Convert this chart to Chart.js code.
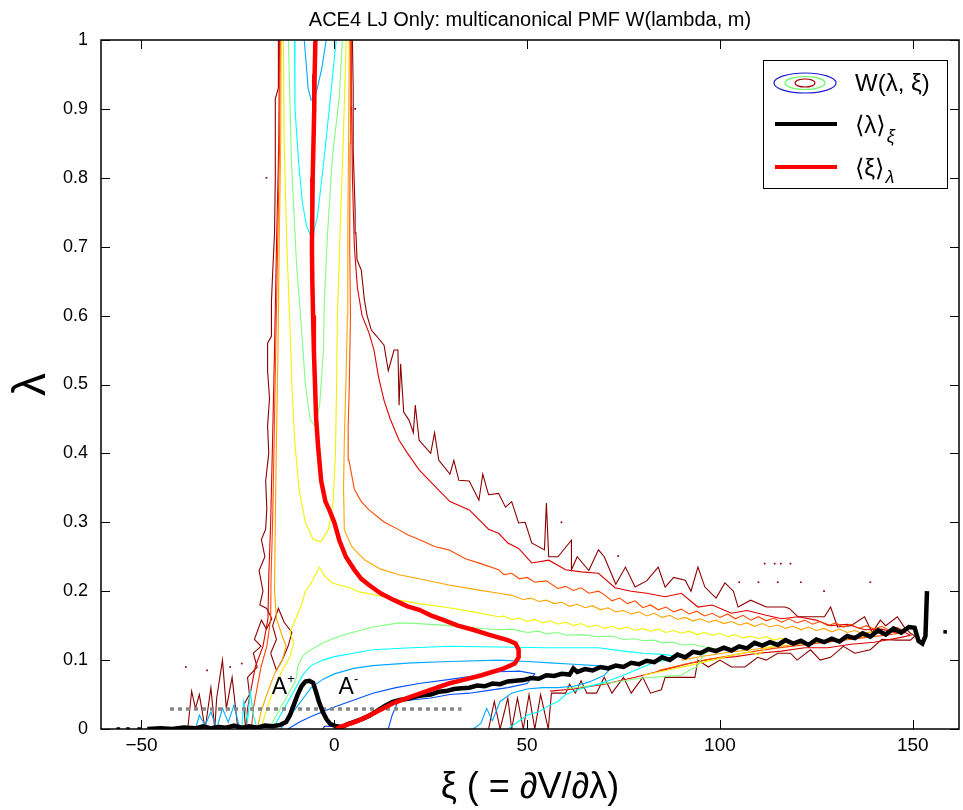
<!DOCTYPE html>
<html>
<head>
<meta charset="utf-8">
<script src="https://cdn.jsdelivr.net/npm/chart.js@4.4.0/dist/chart.umd.min.js"></script>
<style>
html, body { margin: 0; padding: 0; background: #fff; }
</style>
</head>
<body>
<canvas id="pmfChart" width="963" height="810"></canvas>
<script>
// ACE4 LJ only : multicanonical PMF, contours + mean curves

const FONT = 'Helvetica, "Liberation Sans", Arial, "DejaVu Sans", sans-serif';

// axes
const xTicks = [-50, 0, 50, 100, 150];
const xTickLabels = ['\u221250', '0', '50', '100', '150'];
const yTicks = [0, 0.1, 0.2, 0.3, 0.4, 0.5, 0.6, 0.7, 0.8, 0.9, 1];
const yTickLabels = ['0', '0.1', '0.2', '0.3', '0.4', '0.5', '0.6', '0.7', '0.8', '0.9', '1'];

// <lambda>_xi  (black)
const lambdaMean = [
  [-48.5,0],[-45,0.001],[-42,0.0],[-39,0.002],[-36,0.001],[-34,0.004],[-32,0.001],[-30,0.003],[-28,0.002],
  [-26,0.005],[-24,0.002],[-22,0.004],[-20,0.002],[-18,0.005],[-16,0.004],[-14,0.006],[-12.5,0.01],[-11.5,0.02],
  [-10.5,0.035],[-9.5,0.05],[-8.5,0.062],[-7.5,0.069],[-6.5,0.07],[-5.5,0.067],[-4.8,0.055],[-4,0.04],[-3,0.025],
  [-2,0.014],[-1,0.007],[0.5,0.004],[2,0.003],[3.5,0.007],[5,0.01],[7,0.014],[9,0.019],[11,0.026],[13,0.033],
  [15,0.039],[17,0.042],[19,0.044],[21,0.047],[23,0.049],[25,0.05],[27,0.054],[29,0.055],[31,0.058],[33,0.059],
  [35,0.06],[37,0.063],[39,0.062],[41,0.066],[43,0.065],[45,0.069],[47,0.07],[49,0.071],[51,0.074],[53,0.073],
  [55,0.078],[57,0.077],[59,0.08],[61,0.079],[62,0.088],[63,0.083],[65,0.087],[67,0.085],[69,0.09],[71,0.088],
  [73,0.092],[75,0.09],[77,0.096],[79,0.094],[81,0.099],[83,0.097],[85,0.104],[87,0.1],[89,0.108],[91,0.104],
  [93,0.112],[95,0.11],[97,0.116],[99,0.113],[101,0.118],[103,0.114],[105,0.12],[107,0.117],[109,0.125],[111,0.121],
  [113,0.126],[115,0.122],[117,0.129],[119,0.124],[121,0.128],[123,0.122],[125,0.13],[127,0.126],[129,0.131],
  [131,0.127],[133,0.135],[135,0.132],[137,0.139],[139,0.134],[141,0.143],[143,0.137],[145,0.146],[147,0.14],
  [149,0.148],[150.5,0.147],[151.5,0.128],[152.5,0.124],[153.3,0.135],[153.7,0.2]
];
const lambdaMeanDots = [[-56,0],[-53.5,0],[-50.6,0],[158.4,0.141]];

// <xi>_lambda  (red)
const xiMean = [
  [-4.9,1.0],[-5.1,0.95],[-5.2,0.9],[-5.4,0.85],[-5.6,0.8],[-5.7,0.75],[-5.8,0.7],[-5.7,0.65],[-5.5,0.6],
  [-5.3,0.55],[-5.0,0.5],[-4.7,0.45],[-4.2,0.41],[-3.4,0.36],[-2.3,0.33],[-1.3,0.318],[0,0.3],[1.3,0.274],
  [3,0.25],[5.2,0.231],[7,0.218],[9,0.209],[12,0.197],[15.5,0.187],[19,0.178],[22,0.173],[25,0.165],[28.4,0.158],
  [32,0.15],[36,0.144],[40,0.137],[45,0.129],[47,0.124],[47.8,0.115],[47.8,0.104],[46.8,0.095],[44,0.088],
  [38.2,0.078],[34,0.072],[29.7,0.066],[24,0.055],[19.4,0.046],[15.5,0.038],[12,0.028],[8.8,0.019],[5.8,0.011],
  [2,0.004],[0.5,0]
];

// dotted reference level
const refLevel = [[-42.6,0.029],[33,0.029]];

// contour W(lambda, xi), outer (dark red) -> inner (blue)
const darkRedLeft = [
  [-14.5,1.0],[-14.5,0.93],[-15.3,0.915],[-15.3,0.8],[-15.5,0.72],[-16.0,0.66],[-16.3,0.62],[-16.3,0.57],
  [-17.3,0.56],[-17.3,0.52],[-16.8,0.48],[-17.3,0.44],[-17.0,0.40],[-17.8,0.36],[-17.5,0.32],[-17.8,0.29],
  [-18.9,0.275],[-18.0,0.25],[-19.5,0.23],[-18.5,0.2],[-19.3,0.18],[-17.5,0.175],[-16.2,0.16],[-17.6,0.145],
  [-18.9,0.158],[-20.7,0.13],[-19.0,0.12],[-21.0,0.11],[-20.0,0.09],[-22.5,0.075],[-22.0,0.05],[-23.5,0.035],[-23.0,0.0]
];
const darkRedSpikes = [
  [-25,0],[-26.5,0.075],[-28,0.03],[-29,0.1],[-30.5,0.045],[-31,0],[-32,0.06],[-33.5,0],[-35,0.05],
  [-36,0.03],[-37,0.055],[-38,0]
];
const darkRedKnot = [
  [-16.5,0.11],[-15,0.13],[-16,0.15],[-14.5,0.175],[-13,0.155],[-11,0.14],[-12,0.12],[-13.5,0.1],[-15,0.085],[-16.5,0.11]
];
const darkRedBand = [
  [40,0],[41.5,0.04],[43,0],[45,0.045],[46,0.0],[47.5,0.045],[49,0.0],[50.5,0.05],[52,0.0],[53.5,0.05],[55.5,0.0],
  [56.3,0.052],[60,0.052],[61,0.065],[62.5,0.052],[64,0.07],[65.5,0.052],[68,0.052],[70,0.075],[72,0.052],
  [75,0.075],[77,0.052],[80,0.075],[82,0.052],[84.8,0.057],[85.8,0.075],[90,0.075],[93.5,0.075],[94.3,0.1],
  [97,0.09],[100,0.1],[103,0.09],[106.5,0.09],[109.8,0.104],[112,0.1],[115,0.11],[118.3,0.11],[120,0.1],
  [123.5,0.115],[126,0.1],[128.7,0.104],[132,0.12],[135,0.11],[139,0.115],[142,0.13],[146,0.129],[149.4,0.129],
  [150.6,0.135],[149.4,0.139],[147.8,0.148],[146,0.163],[143,0.15],[141.6,0.158],[139.5,0.14],[137.5,0.163],
  [134,0.15],[130.5,0.148],[128.7,0.177],[127.1,0.163],[120.2,0.163],[118,0.175],[116.8,0.177],[112,0.177],
  [108,0.187],[104.7,0.177],[103.5,0.2],[101.3,0.212],[99,0.19],[96.1,0.206],[94.3,0.235],[92.5,0.2],[91,0.216],
  [88,0.22],[85.8,0.206],[84,0.235],[81,0.215],[78,0.206],[75.5,0.235],[73,0.21],[71.8,0.226],[70,0.25],
  [68.5,0.26],[66,0.23],[63,0.25],[61.5,0.231],[61.5,0.274],[58,0.25],[55.6,0.25],[55,0.328],[54.5,0.26],
  [51.2,0.27],[49.5,0.3],[47.8,0.299],[46,0.33],[44.4,0.322],[42.6,0.342],[40,0.34],[38.5,0.37],[37.5,0.332],
  [35,0.36],[32.3,0.361],[31,0.39],[30,0.37],[27.1,0.39],[26,0.43],[25,0.40],[22,0.419],[21,0.47],[20.5,0.43],
  [19.4,0.448],[18,0.46],[17.2,0.53],[16.8,0.47],[16.5,0.55],[15.5,0.55],[14,0.52],[12.9,0.557],[11,0.57],
  [9.6,0.579],[8.5,0.6],[7.8,0.623],[7,0.666],[5.9,0.681],[5.6,0.72],[5.4,0.753],[4.9,0.84],[4.9,0.93],[4.7,1.0]
];
const darkRedDots = [
  [-17.6,0.8],[5.4,0.9],[58.9,0.3],[73.6,0.251],[111.6,0.24],[114.2,0.24],[115.8,0.24],[118.3,0.24],
  [105,0.213],[110,0.213],[115,0.213],[121,0.213],[127,0.2],[139,0.213],[-38.5,0.09],[-33,0.085],[-27,0.09],[-24,0.095]
];

const redLeft = [
  [-14.2,1],[-14.4,0.85],[-15.0,0.7],[-15.5,0.55],[-16.0,0.42],[-16.5,0.3],[-17.0,0.22],[-17.2,0.16],
  [-18.5,0.12],[-20.5,0.09],[-21.5,0.06],[-22.5,0.03],[-23,0]
];
const redBand = [
  [56,0.055],[62,0.058],[70,0.065],[78,0.075],[85,0.085],[92,0.095],[98,0.102],[104,0.105],[110,0.11],
  [116,0.113],[122,0.118],[128,0.118],[134,0.123],[140,0.126],[144,0.13],[147,0.133],[149.4,0.136],[148,0.14],
  [146,0.139],[142,0.145],[137.5,0.144],[133,0.152],[128.7,0.15],[125,0.158],[120.2,0.163],[116,0.16],[112,0.165],
  [107,0.172],[103,0.168],[98,0.18],[94.3,0.177],[90,0.197],[85.8,0.192],[81,0.197],[77,0.2],[72.8,0.205],
  [68.5,0.226],[64,0.228],[60,0.231],[55.6,0.245],[51.2,0.241],[47.8,0.262],[45,0.27],[42.6,0.284],[40,0.29],
  [35,0.318],[30,0.33],[27,0.347],[22,0.376],[19,0.40],[16.8,0.419],[14.5,0.45],[12.9,0.477],[11.5,0.51],
  [10.3,0.55],[9,0.575],[7.2,0.6],[6,0.64],[5.2,0.7],[4.7,0.8],[4.5,0.9],[4.4,1.0]
];

const orangeRedLeft = [
  [-14.0,1],[-14.2,0.85],[-14.7,0.7],[-15.2,0.55],[-15.6,0.42],[-16.0,0.3],[-16.4,0.22],[-16.5,0.16],
  [-17.5,0.12],[-19,0.09],[-20,0.06],[-21,0.03],[-21.5,0]
];
const orangeRedBand = [
  [84,0.085],[90,0.093],[96,0.1],[102,0.106],[108,0.112],[114,0.117],[120,0.121],[126,0.125],[132,0.129],
  [138,0.133],[143,0.136],[146.5,0.139],[148,0.142],[146,0.147],[144,0.143],[142,0.149],[140,0.145],[138,0.15],
  [136,0.146],[134,0.152],[132,0.148],[130,0.154],[128,0.15],[126,0.156],[124,0.152],[122,0.158],[120,0.154],
  [118,0.16],[116,0.155],[114,0.161],[112,0.157],[110,0.163],[108,0.158],[106,0.165],[104,0.16],[102,0.167],
  [100,0.162],[98,0.168],[96,0.164],[94,0.171],[92,0.167],[90,0.174],[88,0.17],[86,0.177],[84,0.173],[82,0.18],
  [80,0.176],[78,0.186],[76,0.182],[74,0.19],[72,0.186],[70,0.195],[68.5,0.2],[66,0.197],[64,0.205],[62,0.201],
  [60,0.207],[58,0.204],[55,0.215],[52,0.213],[50,0.22],[48,0.218],[46,0.226],[44,0.224],[42.6,0.231],[38,0.24],
  [34,0.247],[29.7,0.26],[26,0.265],[22,0.275],[19,0.282],[16.8,0.289],[13,0.3],[9,0.318],[7,0.33],[5.2,0.348],
  [3.8,0.39],[3.6,0.44],[3.9,0.5],[4.2,0.6],[4.0,0.7],[4.1,0.85],[4.2,1.0]
];

const orangeLeft = [
  [-13.8,1],[-13.9,0.85],[-14.3,0.7],[-14.6,0.55],[-15.0,0.42],[-15.3,0.3],[-15.5,0.2],[-15.0,0.16],
  [-13.5,0.135],[-12.5,0.12],[-13.5,0.1],[-15.5,0.08],[-17.5,0.05],[-19,0.025],[-20,0]
];
const orangeBand = [
  [90,0.1],[96,0.106],[102,0.111],[108,0.115],[114,0.119],[120,0.123],[126,0.127],[132,0.13],[137,0.134],
  [141,0.139],[139,0.141],[137,0.138],[135,0.143],[133,0.14],[131,0.145],[129,0.141],[127,0.146],[125,0.143],
  [123,0.148],[121,0.144],[119,0.149],[117,0.146],[115,0.151],[113,0.148],[111,0.153],[109,0.149],[107,0.154],
  [105,0.151],[103,0.156],[101,0.153],[99,0.158],[97,0.155],[95,0.16],[93,0.157],[91,0.162],[89,0.159],
  [87,0.165],[85,0.162],[83,0.168],[81,0.164],[79,0.17],[77,0.167],[75,0.172],[73,0.17],[71,0.176],[69,0.173],
  [67,0.179],[65,0.176],[63,0.181],[61,0.178],[59,0.184],[57,0.182],[55,0.187],[53,0.185],[51,0.19],[49,0.188],
  [46,0.194],[42.6,0.197],[36,0.203],[29.7,0.209],[22,0.218],[16.8,0.224],[12,0.232],[8,0.245],[6.5,0.253],
  [4.5,0.265],[2.6,0.289],[2.4,0.35],[2.6,0.42],[3.0,0.5],[3.4,0.6],[3.5,0.72],[3.7,0.85],[3.9,1.0]
];

const yellowColumn = [
  [-13.2,1],[-13.0,0.85],[-12.3,0.7],[-11.6,0.6],[-11.0,0.5],[-10.3,0.42],[-9.2,0.35],[-7.5,0.3],[-5.5,0.275],
  [-3.5,0.272],[-1.5,0.29],[-0.3,0.33],[0.3,0.4],[0.6,0.5],[0.8,0.6],[1.5,0.72],[2.3,0.85],[3.1,1]
];
const yellowBand = [
  [-19,0],[-17.5,0.03],[-15.5,0.06],[-13.5,0.085],[-11.5,0.105],[-10.5,0.125],[-11.5,0.14],[-10.0,0.16],
  [-8.5,0.18],[-7.5,0.2],[-6.2,0.21],[-4.5,0.228],[-3.9,0.235],[-2.5,0.222],[-0.5,0.212],[1.3,0.209],[4,0.205],
  [6.5,0.199],[12,0.193],[16.8,0.187],[22,0.182],[29.7,0.176],[36,0.17],[42.6,0.163],[44,0.164],[46,0.159],
  [48,0.161],[50,0.156],[52,0.159],[54,0.154],[56,0.157],[58,0.152],[60,0.155],[62,0.15],[64,0.153],[66,0.148],
  [68,0.151],[70,0.146],[72,0.149],[74,0.145],[76,0.148],[78,0.143],[80,0.146],[82,0.142],[84,0.145],[86,0.14],
  [88,0.143],[90,0.139],[92,0.142],[94,0.137],[96,0.14],[98,0.136],[100,0.139],[102,0.134],[104,0.137],
  [106,0.132],[108,0.135],[110,0.131],[112,0.134],[114,0.129],[116,0.132],[118,0.128],[116,0.122],[112,0.118],
  [110,0.108],[108,0.112],[104,0.108],[98,0.1],[92,0.092],[86,0.085],[80,0.078]
];

const greenColumn = [
  [-11.9,1],[-11.1,0.82],[-9.8,0.676],[-8.5,0.58],[-7.5,0.5],[-6.3,0.45],[-5,0.44],[-3.8,0.47],[-2.8,0.55],
  [-2.6,0.618],[-1.8,0.714],[-0.5,0.83],[1.3,0.917],[2.1,1]
];
const greenBand = [
  [-17,0],[-15,0.02],[-12.5,0.045],[-10.5,0.065],[-9.8,0.075],[-9.5,0.09],[-8.3,0.105],[-7,0.112],[-5.7,0.116],
  [-3,0.125],[0,0.132],[3.9,0.139],[10,0.148],[16.8,0.154],[22,0.153],[29.7,0.15],[36,0.147],[42.6,0.144],
  [46,0.145],[50,0.14],[53,0.142],[55,0.138],[58,0.14],[60,0.136],[64,0.137],[68.5,0.134],[72,0.135],[75,0.13],
  [78,0.131],[80,0.128],[83,0.129],[85,0.125],[88,0.126],[90,0.122],[93,0.123],[95,0.12],[99,0.116],
  [96,0.11],[94,0.09],[92,0.085],[90,0.078],[85,0.076],[80,0.074],[75,0.07],[70,0.066],[65,0.062],[60,0.058]
];

const cyanColumn = [
  [-10.3,1],[-10.2,0.9],[-9.2,0.82],[-8.3,0.765],[-7.2,0.73],[-6.2,0.717],[-5.4,0.72],[-4.4,0.743],
  [-2.8,0.82],[-1.3,0.9],[0.5,1]
];
const cyanBand = [
  [-16,0],[-14,0.02],[-12,0.04],[-10,0.06],[-8,0.08],[-6,0.092],[-3,0.1],[0,0.105],[5,0.11],[10,0.115],
  [20,0.118],[30,0.12],[42.6,0.119],[55,0.118],[68.5,0.118],[75,0.113],[80,0.11],[86,0.108],[88,0.106],
  [86,0.1],[83,0.097],[80,0.09],[75,0.078],[70,0.068],[65,0.06],[63,0.057],[60,0.05],[58,0.04],[56,0.035],
  [53,0.025],[50,0.02],[47,0.008],[45,0]
];
const cyanSpikes = [[-24,0],[-23.5,0.04],[-22.5,0.01],[-21.8,0.055],[-21,0.02],[-20,0]];

const lightBlueColumn = [[-7.8,1],[-7.2,0.96],[-6.8,0.93],[-6.0,0.913],[-5.2,0.915],[-4.4,0.93],[-3.2,0.96],[-2.1,1]];
const lightBlueBand = [
  [-14,0],[-12,0.015],[-10,0.03],[-8,0.045],[-6,0.06],[-3,0.072],[0,0.08],[5,0.088],[10,0.092],[20,0.096],
  [30,0.098],[42.6,0.1],[50,0.098],[56,0.096],[62,0.094],[68,0.092],[72,0.09],[70,0.078],[66,0.068],[62,0.062],
  [58,0.06],[54,0.06],[50,0.058],[46,0.052],[43,0.04],[41,0.012],[39.5,0.03],[38,0.008],[36,0]
];
const lightBlueSpikes = [
  [-36,0],[-35,0.02],[-33.5,0.005],[-32,0.025],[-30.5,0],[-29,0.03],[-27.5,0.01],[-26,0.035],[-24.5,0]
];

const blueBand = [
  [-12,0],[-9,0.01],[-6,0.018],[-3,0.025],[0,0.032],[4,0.04],[10,0.052],[16,0.06],[22,0.066],[30,0.072],
  [36,0.077],[42.6,0.083],[48,0.084],[52,0.08],[50,0.066],[45,0.06],[40,0.056],[35,0.052],[30,0.05],
  [25,0.045],[20,0.042],[16.5,0.04],[15,0.02],[14,0]
];
const darkBlueSpot = [[-3,0],[-2.5,0.004],[0.5,0.004],[1,0]];

// A+ / A- markers
const stateLabels = [
  { text: 'A', sup: '+', xi: -14.2, lam: 0.06 },
  { text: 'A', sup: '-', xi: 3.1, lam: 0.06 }
];

const contourColors = {
  darkRed: '#8b0000', red: '#dd0000', orangeRed: '#ff4a00', orange: '#ffa500', yellow: '#f2f200',
  green: '#80ff80', cyan: '#00ffff', lightBlue: '#00aaff', blue: '#0050ff', darkBlue: '#0000cc'
};

const pts = a => a.map(([x, y]) => ({ x, y }));

function contour(data, color) {
  return { data: pts(data), borderColor: color, borderWidth: 1.1, showLine: true, pointRadius: 0, order: 10 };
}

const datasets = [
  { data: pts(xiMean), borderColor: '#ff0000', borderWidth: 4.5, showLine: true, pointRadius: 0, order: 0 },
  { data: pts(lambdaMean), borderColor: '#000', borderWidth: 4.5, showLine: true, pointRadius: 0, order: 1 },
  { data: pts(lambdaMeanDots), showLine: false, pointRadius: 2.5, pointStyle: 'rect', backgroundColor: '#000', borderWidth: 0, order: 1 },
  { data: pts(refLevel), borderColor: '#888', borderWidth: 3.5, borderDash: [4, 4], showLine: true, pointRadius: 0, order: 2 },
  contour(darkBlueSpot, contourColors.darkBlue),
  contour(blueBand, contourColors.blue),
  contour(lightBlueColumn, contourColors.lightBlue),
  contour(lightBlueBand, contourColors.lightBlue),
  contour(lightBlueSpikes, contourColors.lightBlue),
  contour(cyanColumn, contourColors.cyan),
  contour(cyanBand, contourColors.cyan),
  contour(cyanSpikes, contourColors.cyan),
  contour(greenColumn, contourColors.green),
  contour(greenBand, contourColors.green),
  contour(yellowColumn, contourColors.yellow),
  contour(yellowBand, contourColors.yellow),
  contour(orangeLeft, contourColors.orange),
  contour(orangeBand, contourColors.orange),
  contour(orangeRedLeft, contourColors.orangeRed),
  contour(orangeRedBand, contourColors.orangeRed),
  contour(redLeft, contourColors.red),
  contour(redBand, contourColors.red),
  contour(darkRedLeft, contourColors.darkRed),
  contour(darkRedSpikes, contourColors.darkRed),
  contour(darkRedKnot, contourColors.darkRed),
  contour(darkRedBand, contourColors.darkRed),
  { data: pts(darkRedDots), showLine: false, pointRadius: 1.2, pointStyle: 'rect', backgroundColor: contourColors.darkRed, borderWidth: 0, order: 10 }
];

// axes box, inward ticks, state labels and legend
const overlay = {
  id: 'overlay',
  afterDraw(chart) {
    const { ctx, chartArea: a, scales: { x, y } } = chart;
    ctx.save();
    ctx.strokeStyle = '#000';
    ctx.lineWidth = 1.5;
    ctx.strokeRect(a.left, a.top, a.right - a.left, a.bottom - a.top);
    ctx.lineWidth = 1;
    ctx.beginPath();
    xTicks.forEach(v => {
      const px = Math.round(x.getPixelForValue(v)) + 0.5;
      ctx.moveTo(px, a.bottom); ctx.lineTo(px, a.bottom - 9);
      ctx.moveTo(px, a.top); ctx.lineTo(px, a.top + 9);
    });
    yTicks.forEach(v => {
      const py = Math.round(y.getPixelForValue(v)) + 0.5;
      ctx.moveTo(a.left, py); ctx.lineTo(a.left + 9, py);
      ctx.moveTo(a.right, py); ctx.lineTo(a.right - 9, py);
    });
    ctx.stroke();

    // A+ / A-
    ctx.fillStyle = '#000';
    ctx.textBaseline = 'middle';
    stateLabels.forEach(l => {
      const px = x.getPixelForValue(l.xi), py = y.getPixelForValue(l.lam);
      ctx.font = '23px ' + FONT;
      ctx.textAlign = 'center';
      ctx.fillText(l.text, px, py);
      const w = ctx.measureText(l.text).width;
      ctx.font = '13px ' + FONT;
      ctx.textAlign = 'left';
      ctx.fillText(l.sup, px + w / 2, py - 8);
    });

    // legend box
    const L = a.right - 196, T = a.top + 20, W = 184, H = 128;
    ctx.fillStyle = '#fff';
    ctx.fillRect(L, T, W, H);
    ctx.strokeStyle = '#000';
    ctx.lineWidth = 1;
    ctx.strokeRect(L + 0.5, T + 0.5, W, H);
    const cx = L + 42, r1 = T + 23;
    [[31, 10, '#2020d0'], [20, 6.5, '#60ff60'], [10, 4, '#a00000']].forEach(([rx, ry, c]) => {
      ctx.beginPath();
      ctx.ellipse(cx, r1, rx, ry, 0, 0, Math.PI * 2);
      ctx.strokeStyle = c;
      ctx.lineWidth = 1.2;
      ctx.stroke();
    });
    ctx.lineWidth = 4;
    ctx.strokeStyle = '#000';
    ctx.beginPath(); ctx.moveTo(L + 12, T + 64); ctx.lineTo(L + 74, T + 64); ctx.stroke();
    ctx.strokeStyle = '#ff0000';
    ctx.beginPath(); ctx.moveTo(L + 12, T + 107); ctx.lineTo(L + 74, T + 107); ctx.stroke();
    ctx.fillStyle = '#000';
    ctx.textAlign = 'left';
    ctx.font = '24px ' + FONT;
    ctx.fillText('W(\u03bb, \u03be)', L + 92, r1 + 1);
    ctx.fillText('\u27e8\u03bb\u27e9', L + 92, T + 66);
    ctx.fillText('\u27e8\u03be\u27e9', L + 92, T + 109);
    const sub1 = ctx.measureText('\u27e8\u03bb\u27e9').width;
    const sub2 = ctx.measureText('\u27e8\u03be\u27e9').width;
    ctx.font = 'italic 18px ' + FONT;
    ctx.fillText('\u03be', L + 93 + sub1, T + 77);
    ctx.fillText('\u03bb', L + 93 + sub2, T + 118);
    ctx.restore();
  }
};

const ctxPmf = document.getElementById('pmfChart');
const pmfChart = new Chart(ctxPmf, {
  type: 'scatter',
  data: { datasets: datasets },
  options: {
    responsive: false,
    animation: false,
    events: [],
    layout: { padding: { top: 0, right: 1, left: 0, bottom: 0 } },
    plugins: {
      legend: { display: false },
      tooltip: { enabled: false },
      title: {
        display: true,
        fullSize: false,
        text: 'ACE4 LJ Only: multicanonical PMF W(lambda, m)',
        color: '#000',
        font: { family: FONT, size: 20, weight: 'normal', lineHeight: 1.2 },
        padding: { top: 8, bottom: 8 }
      }
    },
    scales: {
      x: {
        type: 'linear',
        min: -60.5,
        max: 162,
        afterBuildTicks: s => { s.ticks = xTicks.map(v => ({ value: v })); },
        afterFit: s => { s.height = 81; },
        grid: { display: false, drawTicks: false },
        border: { display: false },
        ticks: {
          padding: 5,
          color: '#000',
          maxRotation: 0,
          font: { family: FONT, size: 19 },
          callback: (v) => xTickLabels[xTicks.indexOf(v)]
        },
        title: {
          display: true,
          text: '\u03be ( = \u2202V/\u2202\u03bb)',
          color: '#000',
          font: { family: FONT, size: 36, lineHeight: 1 },
          padding: { top: 0, bottom: 4 }
        }
      },
      y: {
        type: 'linear',
        min: 0,
        max: 1,
        afterBuildTicks: s => { s.ticks = yTicks.map(v => ({ value: v })); },
        afterFit: s => { s.width = 101; },
        grid: { display: false, drawTicks: false },
        border: { display: false },
        ticks: {
          padding: 13,
          color: '#000',
          font: { family: FONT, size: 18 },
          callback: (v) => yTickLabels[yTicks.indexOf(v)]
        },
        title: {
          display: true,
          text: '\u03bb',
          color: '#000',
          font: { family: FONT, size: 46, lineHeight: 1 },
          padding: { top: 9, bottom: 0 }
        }
      }
    }
  },
  plugins: [overlay]
});
</script>
</body>
</html>
